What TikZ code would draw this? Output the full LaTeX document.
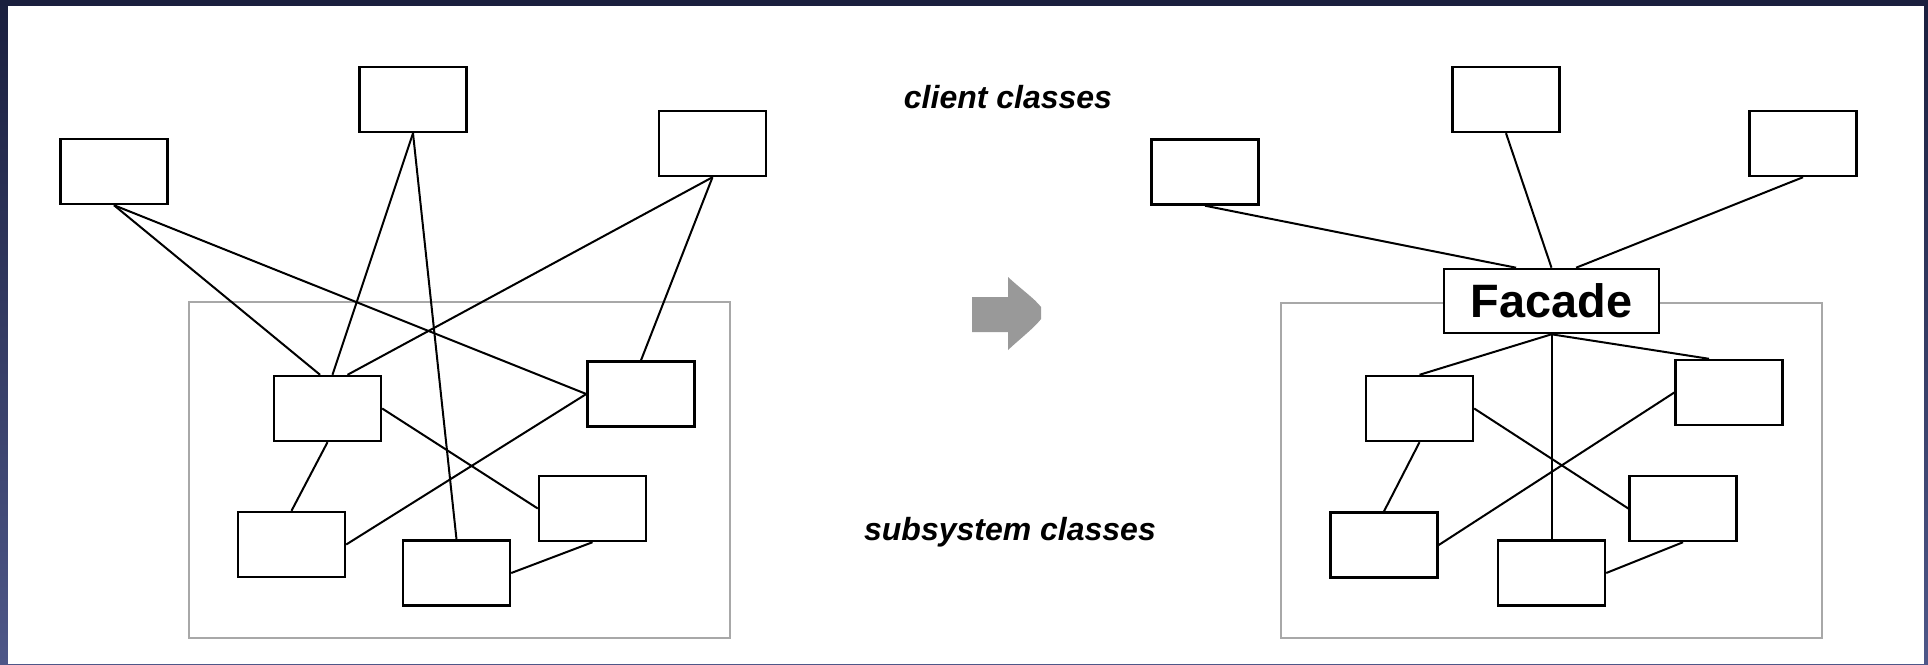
\documentclass[tikz,border=0pt]{standalone}
\usepackage{fontspec}
\setmainfont{Liberation Sans}
\definecolor{framenavy}{HTML}{1A1F3E}
\definecolor{frameslate}{HTML}{4E5788}
\definecolor{groupgray}{HTML}{A8A8A8}
\definecolor{arrowgray}{HTML}{999999}

\tikzset{
  classbox/.style={draw=black, line width=0.9pt, fill=white,
    minimum width=37.4pt, minimum height=22.7pt, inner sep=0pt},
  link/.style={draw=black, line width=0.7pt},
  group/.style={draw=groupgray, line width=0.7pt},
  caption/.style={font=\fontsize{11.2}{13}\selectfont\bfseries\itshape, anchor=base}
}

\begin{document}
\begin{tikzpicture}[x=0.35pt, y=-0.35pt]
  \useasboundingbox (0,0) rectangle (1928,664);
  \shade[top color=framenavy, bottom color=frameslate] (0,0) rectangle (1928,664);
  \fill[white] (8,6) rectangle (1924,664);

  % left: every client talks to the subsystem itself
  \draw[group] (189,302) rectangle (730,638);

  \node[classbox] (lc1) at (114,171.5) {};
  \node[classbox] (lc2) at (413,99.5) {};
  \node[classbox] (lc3) at (712.5,143.5) {};

  \node[classbox] (ls1) at (327.5,408.5) {};
  \node[classbox] (ls2) at (641,394) {};
  \node[classbox] (ls3) at (291.5,544.5) {};
  \node[classbox] (ls4) at (456.5,573) {};
  \node[classbox] (ls5) at (592.5,508.5) {};

  \draw[link] (lc1.south) -- ([xshift=-2.6pt]ls1.north);
  \draw[link] (lc1.south) -- (ls2.west);
  \draw[link] (lc2.south) -- ([xshift=1.75pt]ls1.north);
  \draw[link] (lc2.south) -- (ls4.north);
  \draw[link] (lc3.south) -- ([xshift=7pt]ls1.north);
  \draw[link] (lc3.south) -- (ls2.north);
  \draw[link] (ls1.east) -- (ls5.west);
  \draw[link] (ls1.south) -- (ls3.north);
  \draw[link] (ls2.west) -- (ls3.east);
  \draw[link] (ls4.east) -- (ls5.south);

  % middle
  \node[caption] (clientlabel) at (1008,108) {client classes};
  \node[caption] (subsyslabel) at (1010,540) {subsystem classes};
  \fill[arrowgray] (972,297) -- (1008,297) -- (1008,277)
    .. controls (1022,290) and (1034,298) .. (1041,307) -- (1041,319)
    .. controls (1034,328) and (1022,337) .. (1008,350)
    -- (1008,332) -- (972,332) -- cycle;

  % right: clients go through the facade
  \draw[group] (1281,303) rectangle (1822,638);

  \node[classbox] (rc1) at (1205,172) {};
  \node[classbox] (rc2) at (1506,99.5) {};
  \node[classbox] (rc3) at (1803,143.5) {};

  \node[classbox, minimum width=75.3pt, minimum height=22.4pt,
    font=\fontsize{16.4}{18}\selectfont\bfseries] (facade) at (1551.5,301) {Facade};

  \node[classbox] (rs1) at (1419.5,408.5) {};
  \node[classbox] (rs2) at (1729,392.5) {};
  \node[classbox] (rs3) at (1384,545) {};
  \node[classbox] (rs4) at (1551.5,573) {};
  \node[classbox] (rs5) at (1683,508.5) {};

  \draw[link] (rc1.south) -- ([xshift=-12.4pt]facade.north);
  \draw[link] (rc2.south) -- (facade.north);
  \draw[link] (rc3.south) -- ([xshift=8.6pt]facade.north);
  \draw[link] (facade.south) -- (rs1.north);
  \draw[link] (facade.south) -- ([xshift=-7pt]rs2.north);
  \draw[link] (facade.south) -- (rs4.north);
  \draw[link] (rs1.east) -- (rs5.west);
  \draw[link] (rs1.south) -- (rs3.north);
  \draw[link] (rs2.west) -- (rs3.east);
  \draw[link] (rs4.east) -- (rs5.south);
\end{tikzpicture}
\end{document}
